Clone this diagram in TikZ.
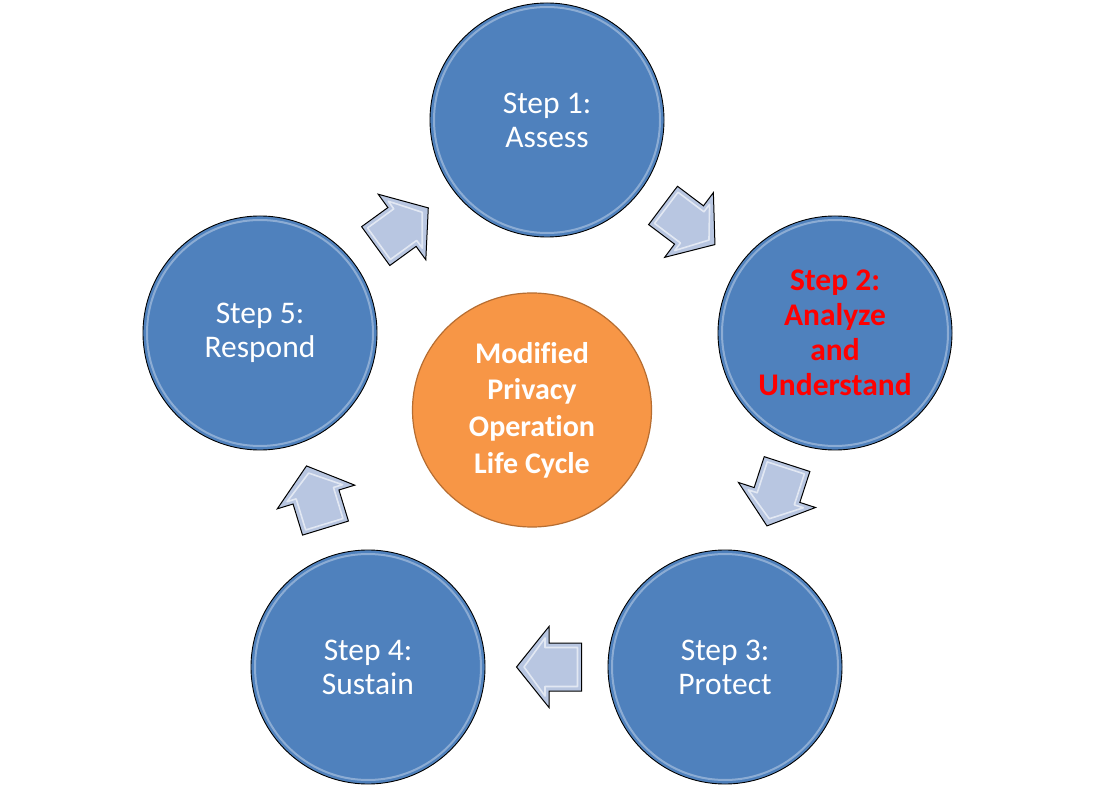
\documentclass[tikz,border=0pt]{standalone}
\usepackage{fontspec}
\usetikzlibrary{shapes.geometric}
\setmainfont{Carlito}[Ligatures={NoCommon}]
\definecolor{stepblue}{RGB}{79,129,189}
\definecolor{hubfill}{RGB}{247,150,70}
\definecolor{hubedge}{RGB}{182,109,49}
\definecolor{arrowfill}{RGB}{184,198,225}
\definecolor{steptwored}{RGB}{255,0,0}
\begin{document}
\begin{tikzpicture}[x=1pt,y=1pt,
  stepcircle/.style={circle, draw=black, line width=0.9pt, fill=stepblue,
    minimum size=234pt, inner sep=0pt, text=white, align=center,
    font=\fontsize{31.5}{34}\selectfont},
  hubcircle/.style={ellipse, draw=hubedge, line width=1.2pt, fill=hubfill,
    minimum width=239pt, minimum height=234pt, inner sep=0pt, text=white, align=center,
    font=\fontsize{30}{36.7}\selectfont\bfseries},
  gloss/.style={white, opacity=0.35, line width=2pt},
  blockarrow/.pic={
    \path[fill=arrowfill, draw=black, line width=1pt, line join=miter]
      (-32.5,-24) -- (0,-24) -- (0,-40.5) -- (32.5,0) -- (0,40.5) -- (0,24) -- (-32.5,24) -- cycle;
    \draw[white, opacity=0.6, line width=1.6pt, line join=round]
      (-28.5,-19.5) -- (4,-19.5) -- (4,-29) -- (25,0) -- (4,29) -- (4,19.5) -- (-28.5,19.5) -- cycle;
  }
]
\useasboundingbox (0,0) rectangle (1095,796);
\fill[white] (0,0) rectangle (1095,796);

\node[stepcircle] (s1) at (547,676) {Step 1:\\Assess};
\node[stepcircle, text=steptwored, font=\fontsize{31.5}{35}\selectfont\bfseries] (s2) at (835,463) {Step 2:\\Analyze\\and\\Understand};
\node[stepcircle] (s3) at (725,129) {Step 3:\\Protect};
\node[stepcircle] (s4) at (368,129) {Step 4:\\Sustain};
\node[stepcircle] (s5) at (260,463) {Step 5:\\Respond};

\foreach \s in {s1,s2,s3,s4,s5}{
  \draw[gloss] (\s.center) circle (113);
}

\node[hubcircle] (hub) at (532,386) {Modified\\Privacy\\Operation\\Life Cycle};

\pic (a12) [rotate=-37] at (689,571) {blockarrow};
\pic (a23) [rotate=-108] at (777,301) {blockarrow};
\pic (a34) [rotate=180] at (549,129) {blockarrow};
\pic (a45) [rotate=107] at (316,299) {blockarrow};
\pic (a51) [rotate=36] at (402,569) {blockarrow};
\end{tikzpicture}
\end{document}
